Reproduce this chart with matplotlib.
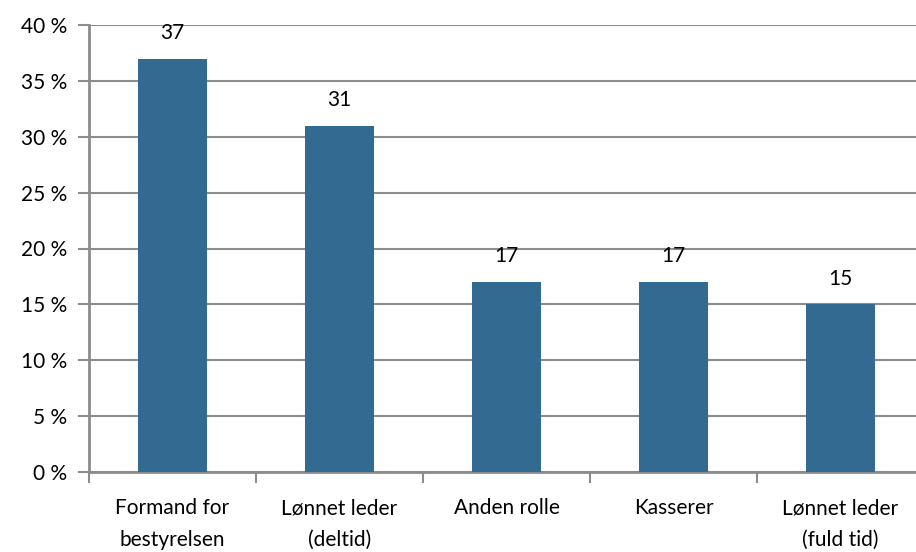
import matplotlib
matplotlib.use("Agg")
import matplotlib.pyplot as plt
import numpy as np

categories = ["Formand for\nbestyrelsen", "Lønnet leder\n(deltid)", "Anden rolle",
              "Kasserer", "Lønnet leder\n(fuld tid)"]
values = [37, 31, 17, 17, 15]
yticks = [0, 5, 10, 15, 20, 25, 30, 35, 40]

plt.rcParams['font.family'] = ['Lato', 'DejaVu Sans']

fig = plt.figure(figsize=(9.16, 5.52), dpi=100)
ax = fig.add_axes([89/916, 80/552, 835/916, 447/552])

x = np.arange(len(categories))
ax.bar(x, values, width=0.41, color='#336a91', zorder=3)
for xi, v in zip(x, values):
    ax.text(xi, v + 1.4, str(v), ha='center', va='bottom', fontsize=15, color='black')

grid_c = '#8c8c8c'
ax.set_ylim(0, 40)
ax.set_xlim(-0.5, len(categories) - 0.5)
ax.set_yticks(yticks)
ax.set_yticklabels([f"{t} %" for t in yticks], fontsize=15)
ax.yaxis.grid(True, color=grid_c, linewidth=1.5, zorder=0)
ax.set_xticks(x)
ax.set_xticklabels(categories, fontsize=15, linespacing=1.7)
ax.set_xticks(np.arange(-0.5, len(categories)), minor=True)
ax.tick_params(axis='x', which='major', length=0, pad=19)
ax.tick_params(axis='x', which='minor', length=8, width=1.5, color=grid_c)
ax.tick_params(axis='y', length=8, width=1.5, color=grid_c, pad=8)
for s in ['top', 'right']:
    ax.spines[s].set_visible(False)
for s in ['left', 'bottom']:
    ax.spines[s].set_color(grid_c)
    ax.spines[s].set_linewidth(2)

fig.savefig("out.png", dpi=100)
